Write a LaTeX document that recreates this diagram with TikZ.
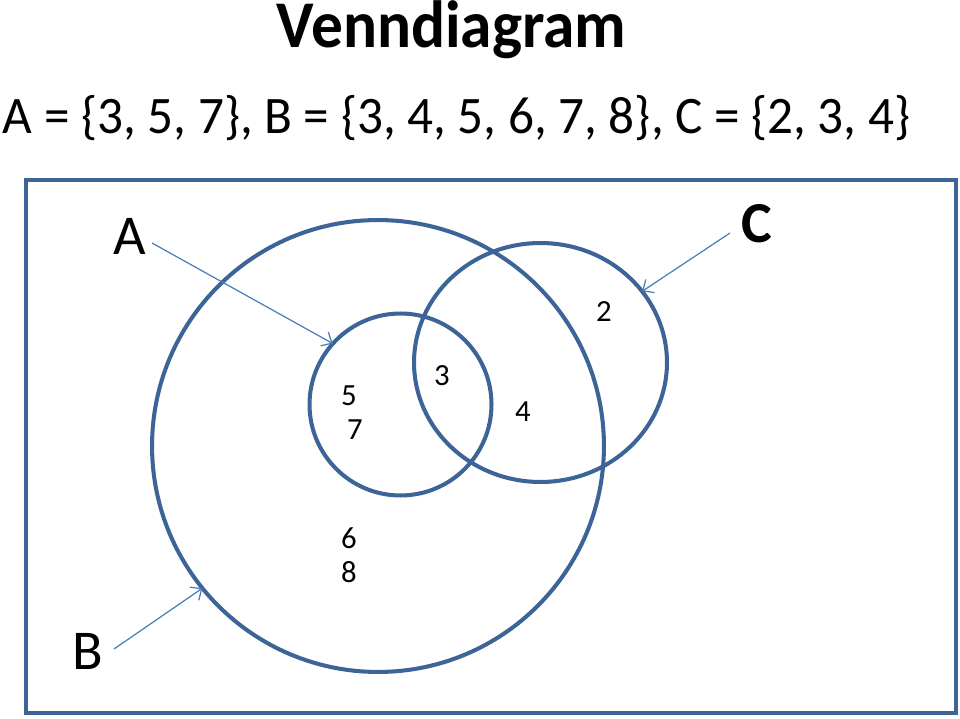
\documentclass[tikz,border=0pt]{standalone}
\usepackage{fontspec}
\setmainfont{Carlito}
\usetikzlibrary{positioning,arrows.meta,shapes.geometric}
\definecolor{setblue}{HTML}{3C6497}
\definecolor{arrowblue}{HTML}{4A7EBB}

\begin{document}
\begin{tikzpicture}[
			x=0.02cm, y=-0.02cm,
			>={Straight Barb[length=5pt,width=9pt]},
			setline/.style={
				draw=setblue,
				line width=2.3pt,
				inner sep=0pt,
				outer sep=0pt
			},
			pointer/.style={->, draw=arrowblue, line width=0.7pt},
			element/.style={font=\fontsize{17.5}{20}\selectfont, inner sep=0pt},
			setname/.style={font=\fontsize{32}{36}\selectfont, inner sep=0pt}
			]
			
			\useasboundingbox (0,0) rectangle (960,719);
			
			%%%%%%%%%%%%%%%%%%%%%%%%%%%%%%%%%%%%%%%%%%%%%%%%%%%%%%
			% Heading
			%%%%%%%%%%%%%%%%%%%%%%%%%%%%%%%%%%%%%%%%%%%%%%%%%%%%%%
			
			\node (title) [anchor=base, inner sep=0pt,
			font=\fontsize{38}{44}\selectfont\bfseries] at (451.5,48)
			{\scalebox{0.95}[1]{Venndiagram}};
			
			\node (sets) [anchor=base, inner sep=0pt,
			font=\fontsize{30}{36}\selectfont] at (456.5,134)
			{\scalebox{0.972}[1]{A = \{3, 5, 7\}, B = \{3, 4, 5, 6, 7, 8\}, C = \{2, 3, 4\}}};
			
			%%%%%%%%%%%%%%%%%%%%%%%%%%%%%%%%%%%%%%%%%%%%%%%%%%%%%%
			% Sets
			%%%%%%%%%%%%%%%%%%%%%%%%%%%%%%%%%%%%%%%%%%%%%%%%%%%%%%
			
			\draw[setblue, line width=2.8pt] (26,180) rectangle (956,713);
			
			\node (setB) [setline, circle, minimum size=9.04cm] at (378,446) {};
			
			\node (setA) [setline, circle, minimum size=3.64cm] at (400.5,404.5) {};
			
			\node (setC) [setline, ellipse, minimum width=5.06cm,
			minimum height=4.78cm] at (540.5,362.5) {};
			
			%%%%%%%%%%%%%%%%%%%%%%%%%%%%%%%%%%%%%%%%%%%%%%%%%%%%%%
			% Elements
			%%%%%%%%%%%%%%%%%%%%%%%%%%%%%%%%%%%%%%%%%%%%%%%%%%%%%%
			
			\node (five) [element] at (349,396) {5};
			\node (seven) [element] at (355,430) {7};
			\node (three) [element] at (442,376) {3};
			\node (four) [element] at (523,412) {4};
			\node (two) [element] at (604,312) {2};
			\node (six) [element] at (349,538) {6};
			\node (eight) [element] at (349,572) {8};
			
			%%%%%%%%%%%%%%%%%%%%%%%%%%%%%%%%%%%%%%%%%%%%%%%%%%%%%%
			% Labels and pointers
			%%%%%%%%%%%%%%%%%%%%%%%%%%%%%%%%%%%%%%%%%%%%%%%%%%%%%%
			
			\node (labA) [setname] at (130,236) {A};
			\node (labB) [setname] at (88,651) {B};
			\node (labC) [setname, font=\fontsize{33}{36}\selectfont\bfseries] at (757,224) {C};
			
			\coordinate (tailA) at (152,243);
			\coordinate (tailB) at (114,649);
			\coordinate (tailC) at (730,233);
			
			\draw[pointer]
			(tailA) -- (setA.138);
			
			\draw[pointer]
			(tailB) -- (setB.219);
			
			\draw[pointer]
			(tailC) -- (setC.35);
			
			%%%%%%%%%%%%%%%%%%%%%%%%%%%%%%%%%%%%%%%%%%%%%%%%%%%%%%
			
		\end{tikzpicture}
\end{document}
